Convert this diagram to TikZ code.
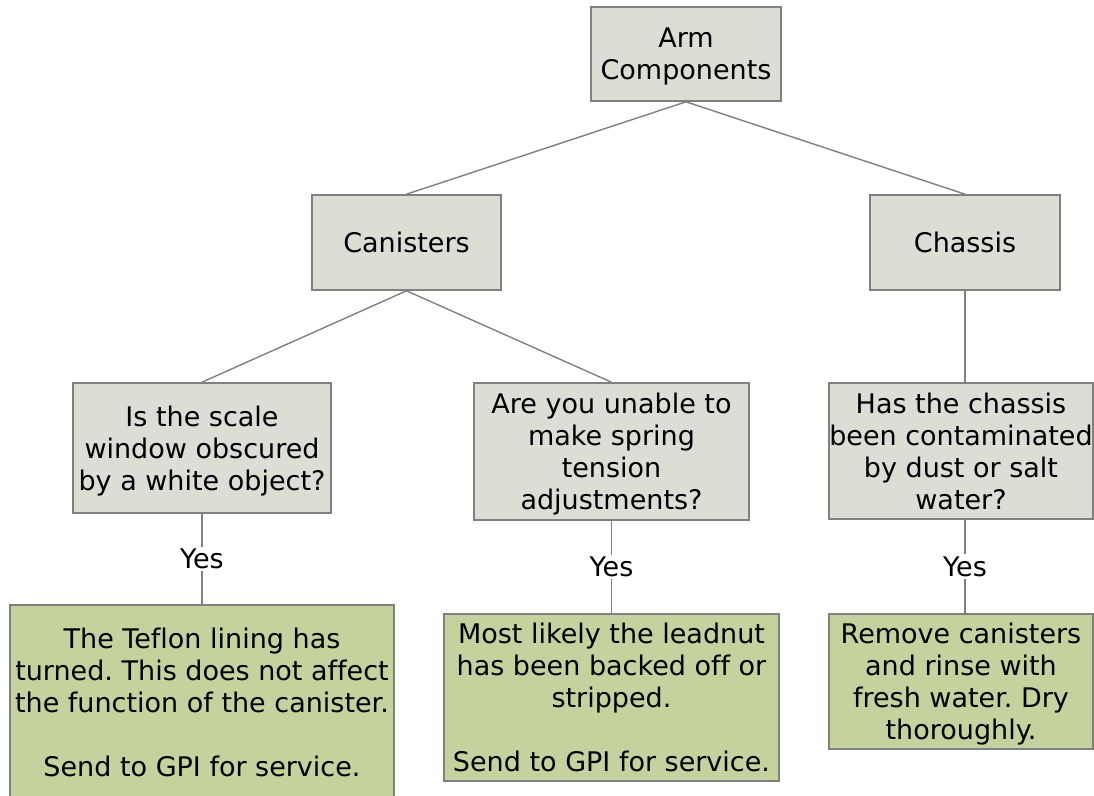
\documentclass[tikz,border=0pt]{standalone}
\usepackage{fontspec}
\setmainfont[Ligatures=NoCommon]{DejaVu Sans}
\frenchspacing
\definecolor{graybox}{RGB}{221,221,213}
\definecolor{greenbox}{RGB}{196,210,158}
\definecolor{bordergray}{RGB}{128,128,128}
\definecolor{linegray}{RGB}{128,128,128}
\begin{document}
\begin{tikzpicture}[x=1pt,y=-1pt,
  box/.style={draw=bordergray, line width=1.6pt, inner sep=0pt, align=center,
    text depth=0pt, font=\fontsize{27}{32}\selectfont\frenchspacing},
  qbox/.style={box, fill=graybox},
  abox/.style={box, fill=greenbox},
  link/.style={draw=linegray, line width=1.4pt},
  yes/.style={fill=white, inner sep=2pt, font=\fontsize{27}{32}\selectfont}]
\useasboundingbox (0,0) rectangle (1094,795);
\node[qbox, minimum width=190, minimum height=94] (arm) at (686,54) {Arm\\Components};
\node[qbox, minimum width=189, minimum height=95] (can) at (406.5,242.5) {Canisters};
\node[qbox, minimum width=190, minimum height=95] (chas) at (965,242.5) {Chassis};
\node[qbox, minimum width=258, minimum height=130] (q1) at (202,448) {Is the scale\\window obscured\\by a white object?};
\node[qbox, minimum width=275, minimum height=137] (q2) at (611.5,451.5) {Are you unable to\\make spring\\tension\\adjustments?};
\node[qbox, minimum width=264, minimum height=136] (q3) at (961,451) {Has the chassis\\been contaminated\\by dust or salt\\water?};
\node[abox, minimum width=384, minimum height=194] (a1) at (202,702) {The Teflon lining has\\turned. This does not affect\\the function of the canister.\\[32pt]Send to GPI for service.};
\node[abox, minimum width=335, minimum height=167] (a2) at (611.5,697.5) {Most likely the leadnut\\has been backed off or\\stripped.\\[32pt]Send to GPI for service.};
\node[abox, minimum width=264, minimum height=135] (a3) at (961,681.5) {Remove canisters\\and rinse with\\fresh water. Dry\\thoroughly.};
\draw[link] (arm.south) -- (can.north);
\draw[link] (arm.south) -- (chas.north);
\draw[link] (can.south) -- (q1.north);
\draw[link] (can.south) -- (q2.north);
\draw[link] (chas.south) -- (chas.south |- q3.north);
\draw[link] (q1.south) -- node[yes] (y1) {Yes} (a1.north);
\draw[link] (q2.south) -- node[yes] (y2) {Yes} (a2.north);
\draw[link] (q3.south -| chas.south) -- node[yes] (y3) {Yes} (a3.north -| chas.south);
\end{tikzpicture}
\end{document}
